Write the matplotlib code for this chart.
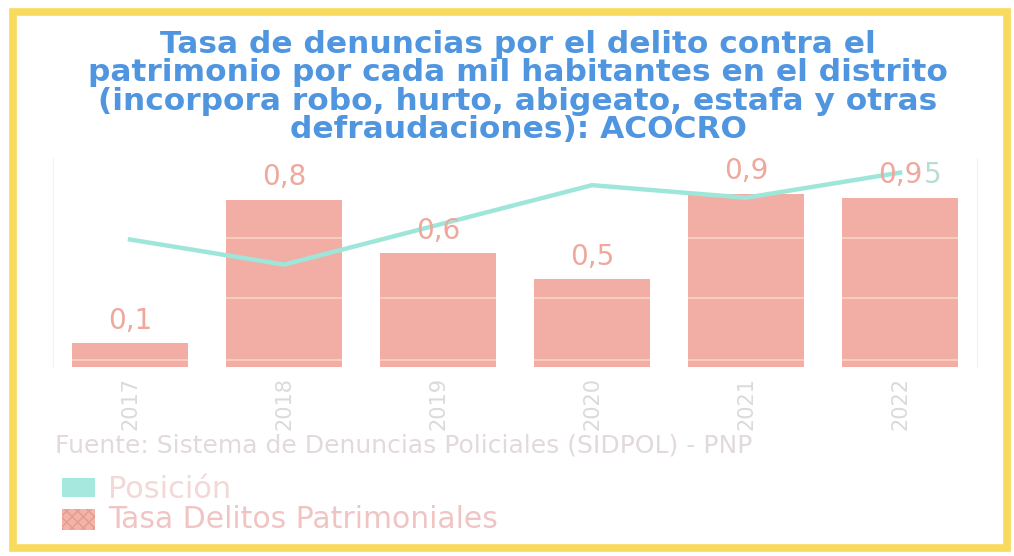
import numpy as np
from matplotlib import pyplot as plt
from matplotlib.patches import Rectangle

# data
years = ["2017", "2018", "2019", "2020", "2021", "2022"]
tasa = [0.115, 0.80, 0.545, 0.42, 0.83, 0.81]
tasa_labels = ["0,1", "0,8", "0,6", "0,5", "0,9", "0,9"]
posicion = [0.61, 0.49, 0.68, 0.87, 0.81, 0.93]
extra_label = "5"  # teal digit drawn next to the 2022 label

title = ("Tasa de denuncias por el delito contra el\n"
         "patrimonio por cada mil habitantes en el distrito\n"
         "(incorpora robo, hurto, abigeato, estafa y otras\n"
         "defraudaciones): ACOCRO")
source = "Fuente: Sistema de Denuncias Policiales (SIDPOL) - PNP"

BAR = "#f2aea5"
LINE = "#9fe6da"
BLUE = "#4f95e0"
BAR_W = 0.75

fig = plt.figure(figsize=(10.14, 5.56), dpi=100)
fig.patch.set_facecolor("white")

# yellow frame round the page
fig.patches.append(Rectangle((13 / 1014, 8 / 556), 994 / 1014, 536 / 556,
                             transform=fig.transFigure, fill=False,
                             edgecolor="#f8da5c", linewidth=5.5, zorder=0))

ax = fig.add_axes([53 / 1014, 1 - 367 / 556, 924 / 1014, 209 / 556])
x = np.arange(len(years))
ax.bar(x, tasa, width=BAR_W, color=BAR, zorder=2)

# faint gridlines, only visible where they cross the bars
for g in [0.033, 0.33, 0.617]:
    for xi, v in zip(x, tasa):
        if v > g:
            ax.hlines(g, xi - BAR_W / 2, xi + BAR_W / 2, color="#f8d2c6",
                      linewidth=1.2, zorder=3)

ax.plot(x, posicion, color=LINE, linewidth=3.2, zorder=4)

for xi, v, lab in zip(x, tasa, tasa_labels):
    ax.annotate(lab, (xi, v), xytext=(0, 6), textcoords="offset points",
                ha="center", va="bottom", fontsize=20, color="#eea89c", zorder=5)
ax.annotate(extra_label, (x[-1], tasa[-1]), xytext=(17, 6), textcoords="offset points",
            ha="left", va="bottom", fontsize=20, color="#b9dcd3", zorder=5)

ax.set_xlim(-0.5, len(years) - 0.5)
ax.set_ylim(0, 1)
ax.set_yticks([])
ax.set_xticks(x)
ax.set_xticklabels(years, rotation=90, fontsize=15, color="#dadada")
ax.tick_params(axis="x", length=0, pad=7)
for side in ["left", "right"]:
    ax.spines[side].set_color("#f2f2f2")
ax.spines["top"].set_visible(False)
ax.spines["bottom"].set_visible(False)

fig.text(518 / 1014, 1 - 87 / 556, title, ha="center", va="center",
         fontsize=22.5, fontweight="bold", color=BLUE, linespacing=0.98)

fig.text(55 / 1014, 1 - 446 / 556, source, ha="left", va="center",
         fontsize=18, color="#e2dada")

# legend drawn by hand
fig.patches.append(Rectangle((62 / 1014, 1 - 497 / 556), 33 / 1014, 19 / 556,
                             transform=fig.transFigure, facecolor="#a6e8dd",
                             edgecolor="none"))
fig.patches.append(Rectangle((62 / 1014, 1 - 530 / 556), 33 / 1014, 21 / 556,
                             transform=fig.transFigure, facecolor="#f2b4a8",
                             edgecolor="#e59a8c", hatch="xxx", linewidth=0))
fig.text(108 / 1014, 1 - 489 / 556, "Posición", ha="left", va="center",
         fontsize=22, color="#f3d8d8")
fig.text(108 / 1014, 1 - 520 / 556, "Tasa Delitos Patrimoniales", ha="left",
         va="center", fontsize=21.5, color="#f1c4c4")

fig.savefig("out.png", dpi=100)
